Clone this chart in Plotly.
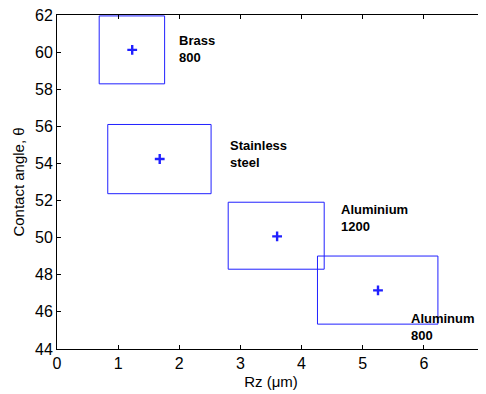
import plotly.graph_objects as go

# Data
materials = ["Brass<br>800", "Stainless<br>steel", "Aluminium<br>1200", "Aluminum<br>800"]
rz_mean = [1.23, 1.68, 3.60, 5.25]
angle_mean = [60.12, 54.24, 50.07, 47.16]
rz_low = [0.69, 0.83, 2.80, 4.26]
rz_high = [1.76, 2.52, 4.37, 6.23]
angle_low = [58.29, 52.37, 48.30, 45.34]
angle_high = [61.95, 56.10, 51.91, 49.01]
label_x = [1.97, 2.79, 4.61, 5.76]
label_y = [60.15, 54.5, 51.06, 45.19]

x_ticks = [0, 1, 2, 3, 4, 5, 6, 7]
y_ticks = [44, 46, 48, 50, 52, 54, 56, 58, 60, 62]

FONT = "Arial, Liberation Sans, sans-serif"
BLUE = "#2020ff"

fig = go.Figure()

for i in range(len(materials)):
    fig.add_trace(go.Scatter(
        x=[rz_low[i], rz_high[i], rz_high[i], rz_low[i], rz_low[i]],
        y=[angle_low[i], angle_low[i], angle_high[i], angle_high[i], angle_low[i]],
        mode="lines", line=dict(color=BLUE, width=1),
        showlegend=False, hoverinfo="skip", cliponaxis=False,
    ))

fig.add_trace(go.Scatter(
    x=rz_mean, y=angle_mean, mode="markers",
    marker=dict(symbol="cross-thin", size=7, line=dict(color=BLUE, width=2.4), color=BLUE),
    showlegend=False,
))

for i, name in enumerate(materials):
    fig.add_annotation(
        x=label_x[i], y=label_y[i], text="<b>" + name + "</b>",
        showarrow=False, xanchor="left", yanchor="middle", align="left",
        font=dict(family=FONT, size=13, color="black"),
    )

axis_common = dict(
    showgrid=False, zeroline=False, showline=True, linecolor="black", linewidth=1,
    mirror="ticks", ticks="inside", ticklen=4, tickcolor="black",
    tickfont=dict(family=FONT, size=16, color="black"),
    ticklabeloverflow="allow",
)

fig.update_xaxes(range=[0, 7], tickvals=x_ticks, ticktext=[str(t) for t in x_ticks],
                 title=dict(text="Rz (μm)", font=dict(family=FONT, size=15, color="black"), standoff=5),
                 **axis_common)
fig.update_yaxes(range=[44, 62], tickvals=y_ticks, ticktext=[str(t) for t in y_ticks],
                 title=dict(text="Contact angle, θ", font=dict(family=FONT, size=15, color="black"), standoff=6),
                 **axis_common)

# page body has an 8px margin, so the figure is sized to fit the window exactly
fig.update_layout(
    width=478, height=386,
    margin=dict(l=49, r=1, t=7, b=45, autoexpand=False),
    plot_bgcolor="white", paper_bgcolor="white",
    font=dict(family=FONT, color="black"),
)

fig.write_html("out.html")
